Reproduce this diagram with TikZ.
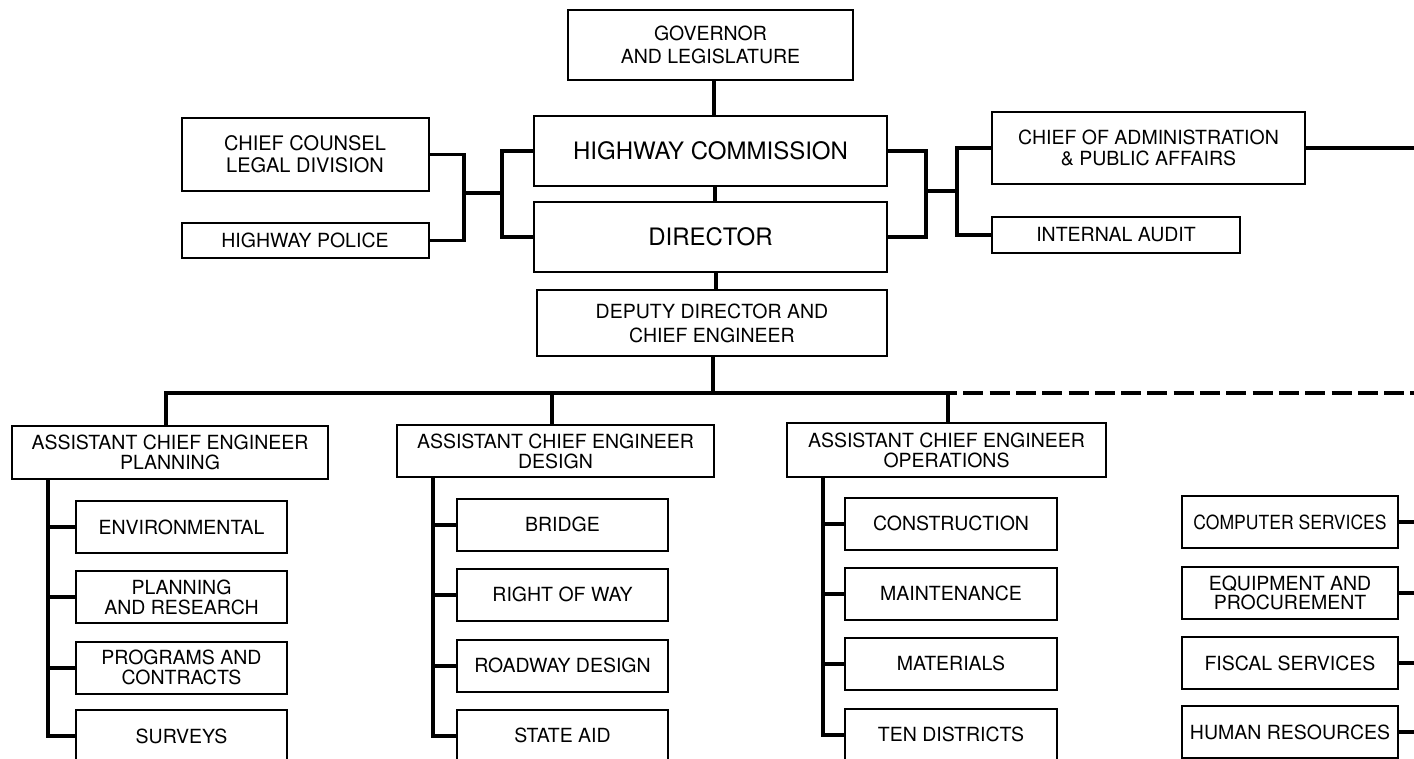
\documentclass[tikz,border=0pt]{standalone}
\usepackage{fontspec}
\setmainfont{TeX Gyre Heros}
\tikzset{
  box/.style={draw, line width=2pt, inner sep=0pt, align=center, font=\fontsize{19.5}{20}\selectfont},
  sub/.style={box, minimum width=211pt, minimum height=52pt},
  rcol/.style={box, minimum width=216pt, minimum height=52pt},
  acebox/.style={box, minimum height=53pt},
  conn/.style={line width=4pt},
  thinconn/.style={line width=3.5pt},
}
\begin{document}
\begin{tikzpicture}[x=1pt,y=-1pt]
\useasboundingbox (0,0) rectangle (1414,759);
\clip (0,0) rectangle (1414,759);
\fill[white] (0,0) rectangle (1414,759);

% top part
\node[box, minimum width=285pt, minimum height=70pt, font=\fontsize{19.5}{22.7}\selectfont] (gov) at (710.5,45) {GOVERNOR\\AND LEGISLATURE};
\node[box, minimum width=353pt, minimum height=70pt, font=\fontsize{24}{28}\selectfont] (hc) at (710.5,151) {HIGHWAY COMMISSION};
\node[box, minimum width=353pt, minimum height=70pt, font=\fontsize{24}{28}\selectfont] (dir) at (710.5,237) {DIRECTOR};
\node[box, minimum width=350pt, minimum height=66pt, font=\fontsize{19.5}{24}\selectfont] (dep) at (712,323) {DEPUTY DIRECTOR AND\\CHIEF ENGINEER};
\node[box, minimum width=247pt, minimum height=73pt, font=\fontsize{20}{21.7}\selectfont] (cc) at (305,154.5) {CHIEF COUNSEL\\LEGAL DIVISION};
\node[box, minimum width=247pt, minimum height=35pt] (hp) at (305,240.5) {HIGHWAY POLICE};
\node[box, minimum width=313pt, minimum height=72pt, font=\fontsize{19.5}{21.7}\selectfont] (coa) at (1148.5,148) {CHIEF OF ADMINISTRATION\\\& PUBLIC AFFAIRS};
\node[box, minimum width=248pt, minimum height=36pt] (ia) at (1116,235) {INTERNAL AUDIT};

% vertical chain
\draw[conn] ([xshift=3.5pt]gov.south) -- ([xshift=3.5pt]hc.north);
\draw[conn] ([xshift=4.5pt]hc.south) -- ([xshift=4.5pt]dir.north);
\draw[conn] ([xshift=5.5pt]dir.south) -- ([xshift=4pt]dep.north);

% left group
\coordinate (lj1) at (464,193);
\coordinate (lj2) at (502,193);
\draw[thinconn] (cc.east) -| (lj1) |- (hp.east);
\draw[thinconn] (lj1) -- (lj2);
\draw[thinconn] (hc.west) -| (lj2) |- (dir.west);

% right group
\coordinate (rj1) at (926,191);
\coordinate (rj2) at (957,191);
\draw[thinconn] (hc.east) -| (rj1) |- (dir.east);
\draw[thinconn] (rj1) -- (rj2);
\draw[thinconn] (coa.west) -| (rj2) |- (ia.west);
\draw[conn] (coa.east) -- ++(130,0);

% assistant chief engineers
\node[acebox, minimum width=316pt] (pl) at (170,452.5) {ASSISTANT CHIEF ENGINEER\\PLANNING};
\node[acebox, minimum width=317pt, minimum height=52pt] (de) at (555.5,451) {ASSISTANT CHIEF ENGINEER\\DESIGN};
\node[acebox, minimum width=319pt, minimum height=54pt] (op) at (946.5,450) {ASSISTANT CHIEF ENGINEER\\OPERATIONS};

% bus
\coordinate (busS) at (957,393);
\coordinate (busE) at (1414,393);
\draw[conn] ([xshift=-4pt]pl.north) |- (busS);
\draw[conn] ([xshift=1pt]dep.south) -- ([xshift=1pt]dep.south |- busS);
\draw[conn] ([xshift=-3.5pt]de.north) -- ([xshift=-3.5pt]de.north |- busS);
\draw[conn] ([xshift=1.5pt]op.north) -- ([xshift=1.5pt]op.north |- busS);
\draw[conn, dash pattern=on 20pt off 6.3pt, dash phase=20pt] (busS) -- (busE);

% planning column
\node[sub] (pl1) at (181.5,527) {ENVIRONMENTAL};
\node[sub] (pl2) at (181.5,597) {PLANNING\\AND RESEARCH};
\node[sub] (pl3) at (181.5,667.5) {PROGRAMS AND\\CONTRACTS};
\node[sub] (pl4) at (181.5,736) {SURVEYS};
% design column
\node[sub] (de1) at (562.5,524.5) {BRIDGE};
\node[sub] (de2) at (562.5,594.5) {RIGHT OF WAY};
\node[sub] (de3) at (562.5,665.5) {ROADWAY DESIGN};
\node[sub] (de4) at (562.5,735.5) {STATE AID};
% operations column
\node[sub, minimum width=212pt] (op1) at (951,523.5) {CONSTRUCTION};
\node[sub, minimum width=212pt] (op2) at (951,593.5) {MAINTENANCE};
\node[sub, minimum width=212pt] (op3) at (951,663.5) {MATERIALS};
\node[sub, minimum width=212pt] (op4) at (951,734.5) {TEN DISTRICTS};
% administration column
\node[rcol] (rc1) at (1290,522) {\scalebox{0.9}[1]{COMPUTER SERVICES}};
\node[rcol, font=\fontsize{19.5}{19}\selectfont] (rc2) at (1290,592.5) {EQUIPMENT AND\\PROCUREMENT};
\node[rcol] (rc3) at (1290,663) {FISCAL SERVICES};
\node[rcol] (rc4) at (1290,732) {HUMAN RESOURCES};

% spines
\foreach \c in {pl,de,op}{
  \draw[conn] ([xshift=37pt]\c.south west) |- (\c4.west);
  \foreach \i in {1,2,3}{
    \draw[conn] (\c\i.west) -- ([xshift=37pt]\c.south west |- \c\i.west);
  }
}
\foreach \i in {1,2,3,4}{
  \draw[conn] (rc\i.east) -- ++(20,0);
}
\end{tikzpicture}
\end{document}
